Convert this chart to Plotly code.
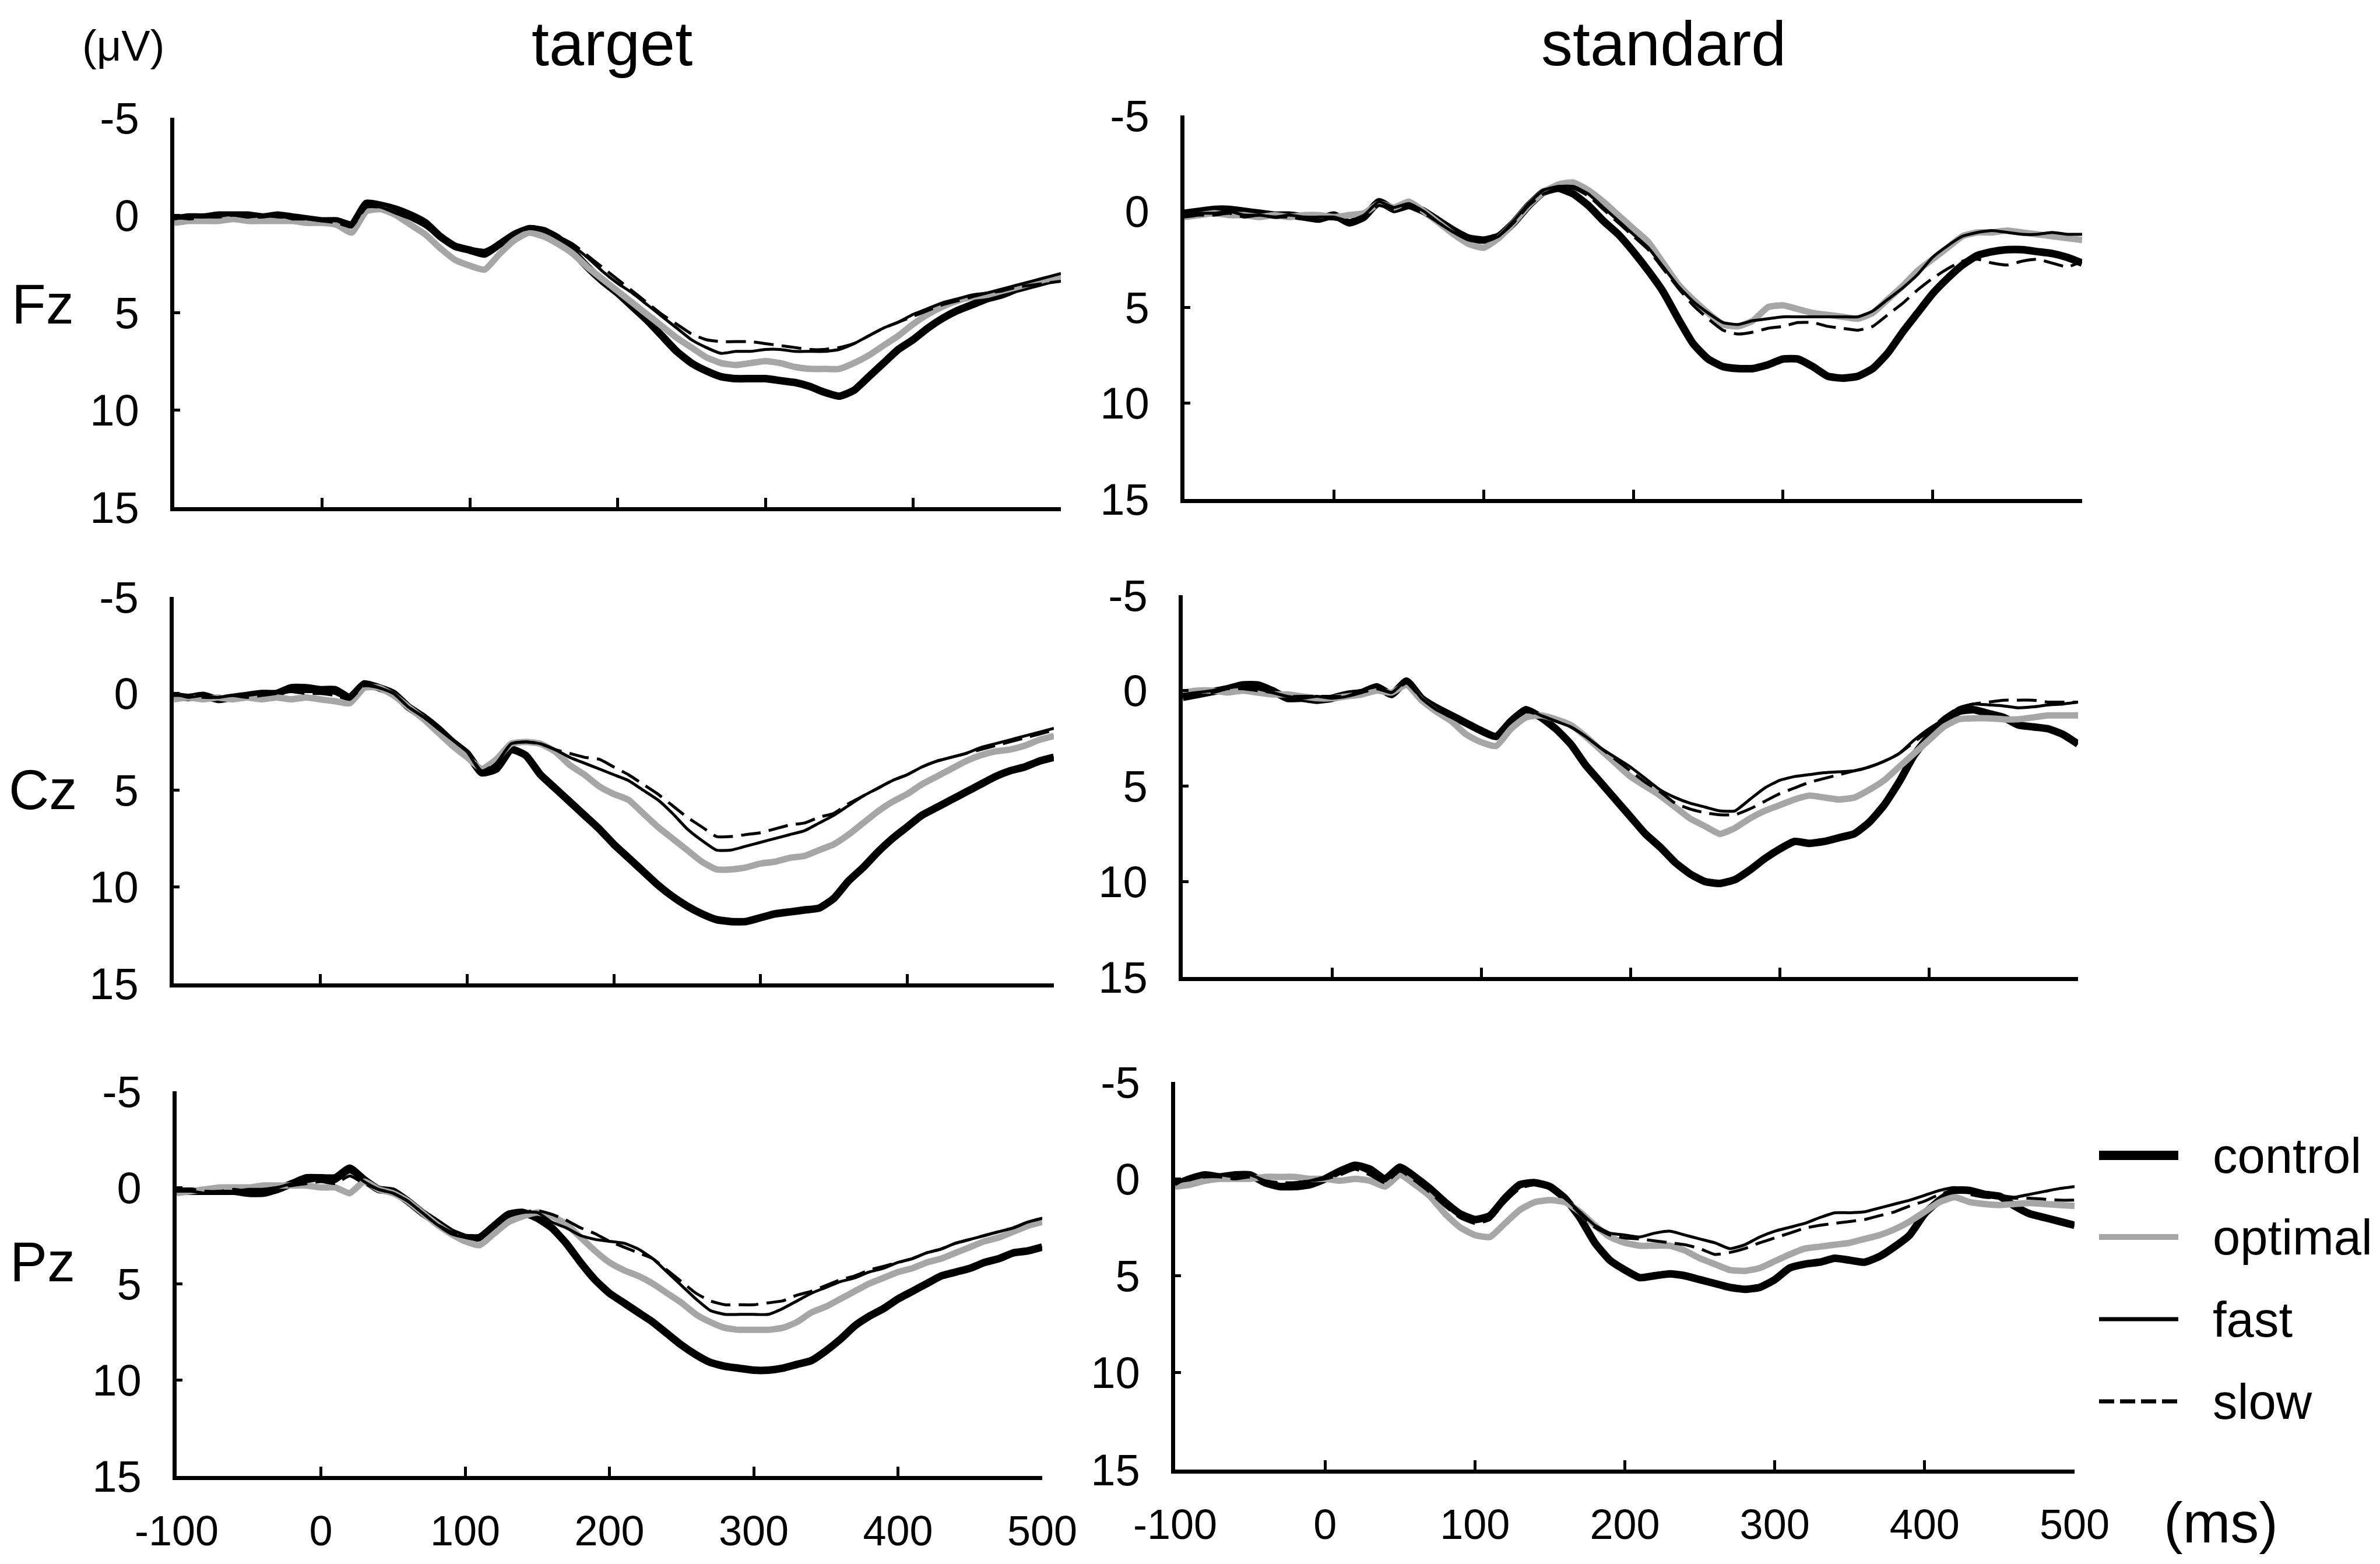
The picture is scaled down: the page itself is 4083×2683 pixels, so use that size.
import plotly.graph_objects as go

# ---------------- data ----------------
T = list(range(-100, 501, 10))  # ms

CONDITIONS = ["control", "optimal", "fast", "slow"]
COLUMNS = ["target", "standard"]
CHANNELS = ["Fz", "Cz", "Pz"]
Y_TICKS = [-5, 0, 5, 10, 15]
X_TICKS = [-100, 0, 100, 200, 300, 400, 500]

# Fz / target
fz_target_control = [0.2, 0.1, 0.1, 0.0, 0.0, 0.0, 0.1, 0.0, 0.1, 0.2,
                     0.3, 0.3, 0.5, -0.6, -0.5, -0.3, 0.0, 0.4, 1.1, 1.6,
                     1.8, 2.0, 1.5, 1.0, 0.7, 0.8, 1.2, 1.9, 2.7, 3.4,
                     4.0, 4.7, 5.4, 6.2, 7.0, 7.6, 8.0, 8.3, 8.4, 8.4,
                     8.4, 8.5, 8.6, 8.8, 9.1, 9.3, 9.0, 8.3, 7.6, 6.9,
                     6.4, 5.8, 5.3, 4.9, 4.6, 4.3, 4.1, 3.8, 3.6, 3.4,
                     3.2]
fz_target_optimal = [0.4, 0.3, 0.3, 0.3, 0.2, 0.3, 0.3, 0.3, 0.3, 0.4,
                     0.4, 0.5, 0.9, -0.2, -0.3, 0.0, 0.5, 1.0, 1.7, 2.3,
                     2.6, 2.8, 2.0, 1.3, 0.9, 1.1, 1.5, 2.0, 2.7, 3.3,
                     3.9, 4.5, 5.1, 5.7, 6.3, 6.8, 7.3, 7.6, 7.7, 7.6,
                     7.5, 7.6, 7.8, 7.9, 7.9, 7.9, 7.6, 7.2, 6.7, 6.2,
                     5.6, 5.1, 4.7, 4.4, 4.2, 4.1, 3.9, 3.7, 3.5, 3.3,
                     3.2]
fz_target_fast = [0.2, 0.1, 0.1, 0.0, 0.0, 0.1, 0.0, 0.1, 0.1, 0.2,
                  0.3, 0.3, 0.6, -0.5, -0.4, -0.1, 0.2, 0.6, 1.2, 1.6,
                  1.7, 1.8, 1.4, 0.9, 0.7, 0.8, 1.1, 1.6, 2.2, 2.9,
                  3.5, 4.0, 4.6, 5.2, 5.8, 6.4, 6.8, 7.1, 7.0, 7.0,
                  6.9, 6.9, 7.0, 7.0, 7.0, 6.9, 6.6, 6.2, 5.8, 5.5,
                  5.1, 4.8, 4.5, 4.3, 4.1, 4.0, 3.8, 3.6, 3.4, 3.2,
                  3.0]
fz_target_slow = [0.1, 0.2, 0.1, 0.1, 0.0, 0.1, 0.1, 0.0, 0.2, 0.2,
                  0.3, 0.4, 0.6, -0.4, -0.4, -0.1, 0.2, 0.6, 1.2, 1.6,
                  1.7, 1.9, 1.4, 0.9, 0.7, 0.8, 1.1, 1.5, 2.1, 2.7,
                  3.3, 3.9, 4.5, 5.1, 5.6, 6.1, 6.4, 6.5, 6.5, 6.5,
                  6.6, 6.7, 6.8, 6.9, 6.9, 6.8, 6.6, 6.2, 5.8, 5.5,
                  5.2, 4.9, 4.6, 4.4, 4.2, 4.0, 3.9, 3.7, 3.6, 3.5,
                  3.4]

# Fz / standard
fz_standard_control = [0.1, 0.0, -0.1, -0.1, 0.0, 0.1, 0.2, 0.2, 0.3, 0.4,
                       0.2, 0.6, 0.3, -0.5, -0.1, -0.3, 0.0, 0.5, 1.0, 1.4,
                       1.5, 1.3, 0.6, -0.3, -1.0, -1.2, -0.9, -0.3, 0.5, 1.2,
                       2.1, 3.1, 4.2, 5.6, 6.9, 7.7, 8.1, 8.2, 8.2, 8.0,
                       7.7, 7.7, 8.1, 8.6, 8.7, 8.6, 8.2, 7.4, 6.3, 5.3,
                       4.3, 3.5, 2.8, 2.3, 2.1, 2.0, 2.0, 2.1, 2.2, 2.4,
                       2.7]
fz_standard_optimal = [0.3, 0.2, 0.1, 0.2, 0.2, 0.3, 0.2, 0.3, 0.2, 0.2,
                       0.3, 0.2, 0.1, -0.4, -0.2, -0.5, 0.0, 0.6, 1.2, 1.7,
                       1.9, 1.4, 0.6, -0.3, -1.0, -1.4, -1.5, -1.1, -0.5, 0.2,
                       0.9, 1.6, 2.7, 3.8, 4.6, 5.3, 5.9, 6.0, 5.7, 5.0,
                       4.9, 5.1, 5.3, 5.4, 5.5, 5.6, 5.3, 4.6, 3.9, 3.1,
                       2.5, 1.9, 1.3, 1.1, 1.1, 1.0, 1.1, 1.2, 1.3, 1.4,
                       1.5]
fz_standard_fast = [0.2, 0.1, 0.1, 0.0, 0.2, 0.2, 0.3, 0.2, 0.3, 0.3,
                    0.3, 0.5, 0.2, -0.5, -0.2, -0.4, 0.0, 0.6, 1.1, 1.5,
                    1.6, 1.3, 0.5, -0.4, -1.1, -1.3, -1.3, -0.9, -0.2, 0.5,
                    1.2, 1.9, 2.9, 3.9, 4.7, 5.3, 5.8, 5.9, 5.7, 5.6,
                    5.5, 5.5, 5.5, 5.5, 5.5, 5.5, 5.2, 4.6, 4.0, 3.3,
                    2.4, 1.8, 1.3, 1.1, 1.0, 1.1, 1.2, 1.2, 1.1, 1.2,
                    1.2]
fz_standard_slow = [0.3, 0.2, 0.2, 0.1, 0.3, 0.2, 0.3, 0.3, 0.4, 0.4,
                    0.4, 0.5, 0.3, -0.3, -0.1, -0.3, 0.1, 0.6, 1.1, 1.5,
                    1.6, 1.3, 0.6, -0.3, -0.9, -1.2, -1.2, -0.8, -0.1, 0.6,
                    1.3, 2.0, 3.0, 4.0, 4.9, 5.6, 6.2, 6.4, 6.3, 6.1,
                    6.0, 5.8, 5.8, 6.0, 6.1, 6.2, 6.0, 5.4, 4.8, 4.1,
                    3.5, 3.0, 2.6, 2.5, 2.7, 2.8, 2.6, 2.5, 2.7, 2.9,
                    2.6]

# Cz / target
cz_target_control = [0.1, 0.2, 0.1, 0.3, 0.2, 0.1, 0.0, 0.0, -0.3, -0.3,
                     -0.2, -0.2, 0.2, -0.5, -0.3, 0.0, 0.7, 1.2, 1.8, 2.5,
                     3.1, 4.1, 3.9, 2.9, 3.2, 4.2, 4.9, 5.6, 6.3, 7.0,
                     7.8, 8.5, 9.2, 9.9, 10.5, 11.0, 11.4, 11.7, 11.8, 11.8,
                     11.6, 11.4, 11.3, 11.2, 11.1, 10.6, 9.7, 9.0, 8.2, 7.5,
                     6.9, 6.3, 5.9, 5.5, 5.1, 4.7, 4.3, 4.0, 3.8, 3.5,
                     3.3]
cz_target_optimal = [0.3, 0.2, 0.3, 0.2, 0.3, 0.2, 0.3, 0.2, 0.3, 0.2,
                     0.3, 0.4, 0.5, -0.3, -0.3, 0.1, 0.7, 1.3, 2.0, 2.7,
                     3.3, 3.9, 3.4, 2.6, 2.5, 2.6, 3.0, 3.7, 4.2, 4.8,
                     5.2, 5.5, 6.2, 6.9, 7.5, 8.1, 8.7, 9.1, 9.1, 9.0,
                     8.8, 8.7, 8.5, 8.4, 8.1, 7.8, 7.3, 6.7, 6.1, 5.6,
                     5.2, 4.7, 4.3, 3.9, 3.5, 3.2, 3.0, 2.9, 2.7, 2.4,
                     2.2]
cz_target_fast = [0.0, 0.2, 0.1, 0.2, 0.1, 0.1, 0.0, -0.1, -0.2, -0.1,
                  -0.1, 0.0, 0.3, -0.5, -0.3, 0.0, 0.7, 1.2, 1.8, 2.4,
                  3.0, 4.1, 3.6, 2.6, 2.5, 2.6, 2.9, 3.3, 3.6, 3.9,
                  4.2, 4.5, 5.0, 5.5, 6.2, 7.0, 7.6, 8.1, 8.1, 7.9,
                  7.7, 7.5, 7.3, 7.1, 6.7, 6.3, 5.8, 5.3, 4.9, 4.5,
                  4.2, 3.8, 3.5, 3.3, 3.1, 2.8, 2.6, 2.4, 2.2, 2.0,
                  1.8]
cz_target_slow = [0.1, 0.1, 0.2, 0.2, 0.1, 0.2, 0.1, 0.0, -0.1, 0.0,
                  0.0, 0.1, 0.3, -0.4, -0.3, 0.0, 0.7, 1.2, 1.8, 2.4,
                  3.0, 4.0, 3.6, 2.6, 2.5, 2.6, 2.9, 3.1, 3.3, 3.4,
                  3.8, 4.2, 4.7, 5.2, 5.8, 6.4, 6.9, 7.4, 7.4, 7.3,
                  7.2, 7.0, 6.8, 6.7, 6.4, 6.2, 5.7, 5.3, 4.9, 4.5,
                  4.2, 3.8, 3.5, 3.3, 3.1, 2.9, 2.7, 2.5, 2.3, 2.1,
                  1.9]

# Cz / standard
cz_standard_control = [0.35, 0.2, 0.05, -0.1, -0.3, -0.3, 0.0, 0.4, 0.4, 0.5,
                       0.4, 0.2, 0.1, -0.2, 0.2, -0.5, 0.4, 0.9, 1.3, 1.7,
                       2.1, 2.4, 1.6, 1.0, 1.4, 2.0, 2.8, 3.9, 4.8, 5.7,
                       6.6, 7.5, 8.2, 9.0, 9.6, 10.0, 10.1, 9.9, 9.4, 8.8,
                       8.3, 7.9, 8.0, 7.9, 7.7, 7.5, 6.9, 6.0, 4.8, 3.4,
                       2.4, 1.7, 1.1, 1.0, 1.2, 1.4, 1.8, 1.9, 2.0, 2.3,
                       2.8]
cz_standard_optimal = [0.1, 0.0, 0.0, 0.1, 0.0, 0.1, 0.2, 0.2, 0.3, 0.4,
                       0.4, 0.3, 0.2, 0.0, 0.1, -0.3, 0.5, 1.1, 1.6, 2.3,
                       2.7, 2.9, 2.0, 1.4, 1.3, 1.5, 1.8, 2.4, 3.1, 3.8,
                       4.5, 5.0, 5.5, 6.1, 6.7, 7.1, 7.5, 7.2, 6.7, 6.3,
                       6.0, 5.7, 5.5, 5.6, 5.7, 5.6, 5.2, 4.7, 4.0, 3.3,
                       2.6, 1.9, 1.5, 1.45, 1.45, 1.5, 1.5, 1.4, 1.3, 1.3,
                       1.3]
cz_standard_fast = [0.3, 0.1, 0.0, -0.2, -0.2, -0.1, 0.1, 0.3, 0.4, 0.3,
                    0.4, 0.3, 0.0, -0.2, 0.1, -0.5, 0.4, 1.0, 1.4, 1.8,
                    2.2, 2.4, 1.6, 1.0, 1.3, 1.6, 1.9, 2.4, 3.0, 3.5,
                    4.0, 4.6, 5.2, 5.6, 5.9, 6.1, 6.3, 6.3, 5.7, 5.1,
                    4.7, 4.5, 4.4, 4.3, 4.25, 4.2, 4.0, 3.7, 3.3, 2.6,
                    2.0, 1.5, 0.9, 0.7, 0.75, 0.8, 0.9, 0.85, 0.75, 0.7,
                    0.6]
cz_standard_slow = [0.2, 0.1, 0.1, -0.1, -0.1, 0.0, 0.1, 0.3, 0.3, 0.3,
                    0.3, 0.3, 0.1, -0.1, 0.1, -0.4, 0.4, 1.0, 1.4, 1.8,
                    2.2, 2.4, 1.6, 1.1, 1.3, 1.6, 1.9, 2.4, 3.0, 3.6,
                    4.2, 4.8, 5.3, 5.9, 6.2, 6.4, 6.5, 6.5, 6.2, 5.8,
                    5.4, 5.1, 4.8, 4.6, 4.4, 4.2, 4.0, 3.7, 3.3, 2.7,
                    2.1, 1.4, 0.9, 0.7, 0.6, 0.5, 0.5, 0.5, 0.6, 0.6,
                    0.6]

# Pz / target
pz_target_control = [0.2, 0.2, 0.2, 0.2, 0.2, 0.3, 0.3, 0.1, -0.2, -0.5,
                     -0.5, -0.5, -1.0, -0.4, 0.1, 0.2, 0.7, 1.3, 1.8, 2.3,
                     2.6, 2.6, 2.0, 1.4, 1.3, 1.6, 2.1, 2.9, 3.9, 4.8,
                     5.5, 6.0, 6.5, 7.0, 7.6, 8.2, 8.7, 9.1, 9.3, 9.4,
                     9.5, 9.5, 9.4, 9.2, 9.0, 8.5, 7.9, 7.2, 6.7, 6.3,
                     5.8, 5.4, 5.0, 4.6, 4.4, 4.2, 3.9, 3.7, 3.4, 3.3,
                     3.1]
pz_target_optimal = [0.3, 0.2, 0.1, 0.0, 0.0, 0.0, -0.1, -0.1, -0.1, -0.1,
                     0.0, 0.0, 0.3, -0.3, 0.1, 0.3, 0.7, 1.3, 1.9, 2.4,
                     2.8, 3.0, 2.4, 1.8, 1.5, 1.3, 1.5, 1.9, 2.6, 3.3,
                     3.9, 4.3, 4.6, 5.0, 5.5, 6.0, 6.6, 7.0, 7.3, 7.4,
                     7.4, 7.4, 7.3, 7.0, 6.5, 6.2, 5.8, 5.4, 5.0, 4.7,
                     4.4, 4.2, 3.9, 3.7, 3.4, 3.1, 2.8, 2.6, 2.3, 2.0,
                     1.8]
pz_target_fast = [0.2, 0.2, 0.3, 0.2, 0.2, 0.1, 0.1, 0.0, -0.2, -0.3,
                  -0.4, -0.3, -0.8, -0.3, 0.1, 0.3, 0.7, 1.3, 1.9, 2.4,
                  2.6, 2.7, 2.1, 1.5, 1.3, 1.3, 1.8, 2.1, 2.5, 2.7,
                  2.8, 2.9, 3.2, 3.7, 4.4, 5.1, 5.8, 6.4, 6.6, 6.6,
                  6.6, 6.6, 6.3, 5.9, 5.5, 5.2, 4.9, 4.7, 4.4, 4.2,
                  3.9, 3.7, 3.4, 3.2, 2.9, 2.7, 2.5, 2.3, 2.1, 1.8,
                  1.6]
pz_target_slow = [0.2, 0.1, 0.2, 0.2, 0.1, 0.2, 0.1, 0.0, -0.1, -0.2,
                  -0.3, -0.2, -0.6, -0.2, 0.1, 0.3, 0.7, 1.3, 1.9, 2.3,
                  2.6, 2.7, 2.1, 1.5, 1.3, 1.2, 1.4, 1.7, 2.1, 2.4,
                  2.8, 3.1, 3.4, 3.7, 4.3, 4.9, 5.5, 5.9, 6.1, 6.1,
                  6.1, 6.0, 5.9, 5.6, 5.4, 5.1, 4.8, 4.6, 4.3, 4.1,
                  3.9, 3.7, 3.4, 3.2, 2.9, 2.7, 2.5, 2.3, 2.1, 1.8,
                  1.6]

# Pz / standard
pz_standard_control = [0.3, 0.0, -0.2, -0.1, -0.2, -0.2, 0.2, 0.4, 0.4, 0.3,
                       0.0, -0.4, -0.7, -0.5, 0.0, -0.6, -0.1, 0.5, 1.2, 1.8,
                       2.1, 1.9, 1.0, 0.3, 0.2, 0.4, 1.0, 2.0, 3.3, 4.2,
                       4.7, 5.1, 5.0, 4.9, 5.0, 5.2, 5.4, 5.6, 5.7, 5.6,
                       5.2, 4.6, 4.4, 4.3, 4.1, 4.2, 4.3, 4.0, 3.5, 2.9,
                       1.8, 1.1, 0.6, 0.6, 0.8, 0.9, 1.4, 1.8, 2.0, 2.2,
                       2.4]
pz_standard_optimal = [0.4, 0.3, 0.1, 0.0, 0.0, 0.0, -0.1, -0.1, -0.1, 0.0,
                       0.0, 0.1, 0.0, 0.1, 0.4, -0.2, 0.3, 0.9, 1.8, 2.5,
                       2.9, 3.0, 2.3, 1.6, 1.2, 1.1, 1.2, 1.7, 2.4, 3.0,
                       3.3, 3.45, 3.45, 3.45, 3.7, 4.1, 4.4, 4.7, 4.75, 4.6,
                       4.25, 3.9, 3.6, 3.5, 3.4, 3.3, 3.1, 2.9, 2.6, 2.2,
                       1.7, 1.2, 0.95, 1.2, 1.3, 1.35, 1.3, 1.25, 1.3, 1.35,
                       1.4]
pz_standard_fast = [0.3, -0.1, -0.2, -0.2, -0.1, -0.2, 0.1, 0.3, 0.2, 0.1,
                    -0.1, -0.3, -0.6, -0.3, 0.1, -0.5, 0.0, 0.6, 1.3, 1.9,
                    2.2, 2.0, 1.1, 0.4, 0.2, 0.5, 1.0, 1.7, 2.4, 2.8,
                    2.9, 3.0, 2.8, 2.7, 2.9, 3.1, 3.3, 3.6, 3.4, 3.0,
                    2.7, 2.5, 2.3, 2.0, 1.75, 1.75, 1.7, 1.5, 1.3, 1.1,
                    0.85, 0.6, 0.45, 0.6, 0.8, 0.85, 0.95, 0.8, 0.65, 0.5,
                    0.4]
pz_standard_slow = [0.2, 0.0, -0.1, -0.1, 0.0, -0.1, 0.1, 0.2, 0.2, 0.1,
                    0.0, -0.2, -0.5, -0.2, 0.2, -0.4, 0.1, 0.7, 1.4, 2.0,
                    2.3, 2.1, 1.2, 0.5, 0.3, 0.5, 1.0, 1.8, 2.5, 2.9,
                    3.05, 3.1, 3.2, 3.3, 3.4, 3.6, 3.9, 3.8, 3.6, 3.3,
                    3.05, 2.8, 2.55, 2.4, 2.3, 2.2, 2.1, 1.9, 1.7, 1.4,
                    1.15, 0.8, 0.6, 0.8, 0.95, 1.0, 1.0, 1.0, 1.05, 1.1,
                    1.1]

SERIES = {
    ("Fz", "target"): [fz_target_control, fz_target_optimal, fz_target_fast, fz_target_slow],
    ("Fz", "standard"): [fz_standard_control, fz_standard_optimal, fz_standard_fast, fz_standard_slow],
    ("Cz", "target"): [cz_target_control, cz_target_optimal, cz_target_fast, cz_target_slow],
    ("Cz", "standard"): [cz_standard_control, cz_standard_optimal, cz_standard_fast, cz_standard_slow],
    ("Pz", "target"): [pz_target_control, pz_target_optimal, pz_target_fast, pz_target_slow],
    ("Pz", "standard"): [pz_standard_control, pz_standard_optimal, pz_standard_fast, pz_standard_slow],
}

# ---------------- styling / layout ----------------
W, H = 4083, 2683
NARROW = "Liberation Sans Narrow, Arial Narrow, Liberation Sans, Arial"
REG = "Liberation Sans, Arial"

STYLE = {
    "control": dict(color="#000000", width=13, dash="solid"),
    "optimal": dict(color="#a6a6a6", width=11, dash="solid"),
    "fast": dict(color="#000000", width=5, dash="solid"),
    "slow": dict(color="#000000", width=5, dash="34px,14px"),
}

# panel boxes in pixels: (x_left, x_right, y_top(-5), y_bottom(15))
BOX = {
    ("Fz", "target"): (291, 1812, 194, 862),
    ("Fz", "standard"): (2024, 3564, 190, 848),
    ("Cz", "target"): (290, 1800, 1016, 1679),
    ("Cz", "standard"): (2021, 3557, 1013, 1668),
    ("Pz", "target"): (295, 1780, 1864, 2524),
    ("Pz", "standard"): (2008, 3551, 1848, 2513),
}

fig = go.Figure()
layout = dict(
    width=W, height=H,
    margin=dict(l=0, r=0, t=0, b=0, pad=0, autoexpand=False),
    paper_bgcolor="white", plot_bgcolor="white",
    showlegend=False,
)

idx = 0
for ch in CHANNELS:
    for col in COLUMNS:
        idx += 1
        xl, xr, yt, yb = BOX[(ch, col)]
        sfx = "" if idx == 1 else str(idx)
        bottom_row = ch == "Pz"
        layout["xaxis" + sfx] = dict(
            domain=[xl / W, xr / W], anchor="y" + sfx, automargin=False,
            range=[-100, 500], showgrid=False, zeroline=False,
            showline=True, linecolor="black", linewidth=7,
            ticks="inside", ticklen=16, tickwidth=5, tickcolor="black",
            tickvals=X_TICKS, ticktext=[str(v) for v in X_TICKS],
            showticklabels=bottom_row, ticklabelstandoff=26,
            tickfont=dict(family=NARROW, size=72, color="black"),
        )
        layout["yaxis" + sfx] = dict(
            domain=[1 - yb / H, 1 - yt / H], anchor="x" + sfx, automargin=False,
            range=[15, -5], showgrid=False, zeroline=False,
            showline=True, linecolor="black", linewidth=7,
            ticks="inside", ticklen=10, tickwidth=5, tickcolor="black",
            tickvals=Y_TICKS, ticktext=[str(v) for v in Y_TICKS],
            ticklabelstandoff=38,
            tickfont=dict(family=NARROW, size=76, color="black"),
        )
        for cond, vals in zip(CONDITIONS, SERIES[(ch, col)]):
            st = STYLE[cond]
            fig.add_trace(go.Scatter(
                x=T, y=vals, mode="lines", name=cond,
                line=dict(color=st["color"], width=st["width"], dash=st["dash"],
                          shape="spline", smoothing=0.5),
                xaxis="x" + sfx, yaxis="y" + sfx,
            ))

def label(text, xpx, ypx, size, family, xanchor="center"):
    return dict(text=text, x=xpx / W, y=1 - ypx / H, xref="paper", yref="paper",
                xanchor=xanchor, yanchor="middle", showarrow=False,
                font=dict(family=family, size=size, color="black"))

annotations = [
    label("target", 1042, 66, 108, NARROW),
    label("standard", 2846, 66, 108, NARROW),
    label("(μV)", 203, 70, 74, NARROW),
    label("(ms)", 3802, 2604, 98, REG),
]
for ch, ypx in zip(CHANNELS, [513, 1346, 2156]):
    annotations.append(label(ch, 65, ypx, 96, NARROW))

# legend (drawn manually to match the reference's long line samples)
shapes = []
LEG_Y = [1974, 2114, 2255, 2396]
LEG_W = {"control": 16, "optimal": 10, "fast": 7, "slow": 7}
for cond, ypx in zip(CONDITIONS, LEG_Y):
    st = STYLE[cond]
    shapes.append(dict(type="line", xref="paper", yref="paper",
                       x0=3593 / W, x1=3729 / W, y0=1 - ypx / H, y1=1 - ypx / H,
                       line=dict(color=st["color"], width=LEG_W[cond],
                                 dash="26px,10px" if cond == "slow" else "solid")))
    annotations.append(label(cond, 3786, ypx, 85, REG, xanchor="left"))

layout["annotations"] = annotations
layout["shapes"] = shapes
fig.update_layout(**layout)
fig.write_html("out.html")
